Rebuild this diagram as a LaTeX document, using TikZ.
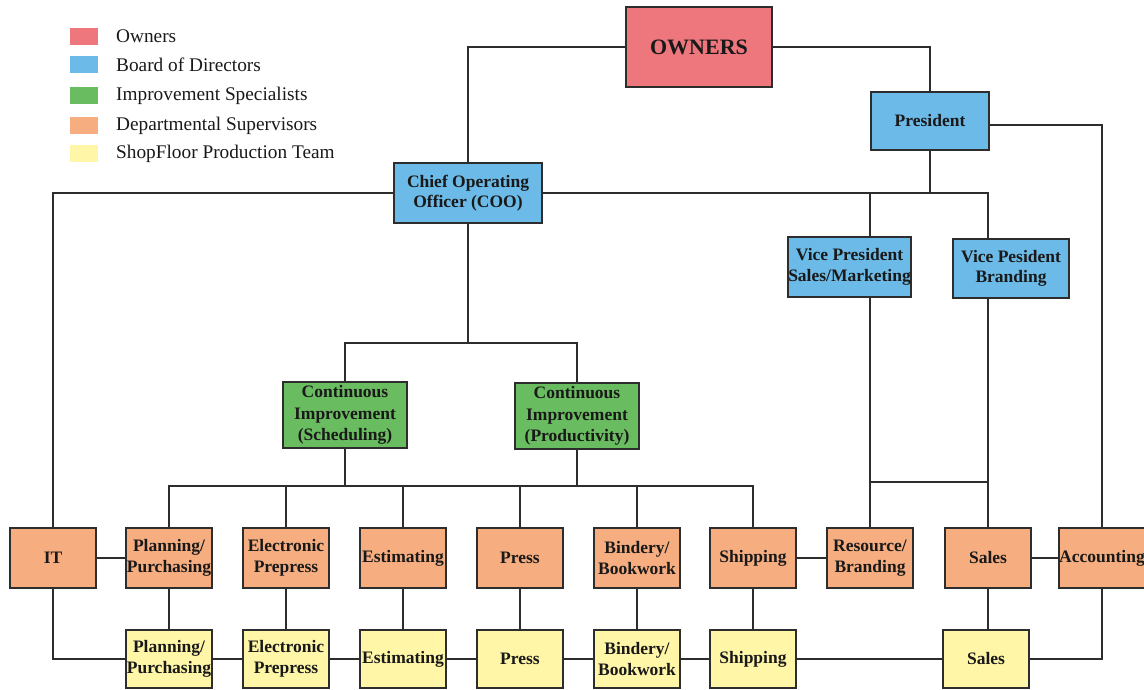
\documentclass[tikz,border=0pt]{standalone}
\usepackage{fontspec}
\setmainfont{Liberation Serif}
\usetikzlibrary{calc,backgrounds}
\definecolor{cOwn}{RGB}{238,118,125}
\definecolor{cBoard}{RGB}{108,186,232}
\definecolor{cImp}{RGB}{106,188,96}
\definecolor{cDept}{RGB}{246,174,128}
\definecolor{cShop}{RGB}{255,246,168}
\definecolor{cLine}{RGB}{45,45,45}
\begin{document}
\begin{tikzpicture}[x=1pt,y=-1pt,
 box/.style={draw=cLine, line width=1.5pt, inner sep=0pt, align=center,
   font=\fontsize{17.5}{20.5}\selectfont\bfseries, text=black!90},
 dept/.style={box, fill=cDept, minimum width=86pt, minimum height=60pt},
 shop/.style={box, fill=cShop, minimum width=86pt, minimum height=58pt},
 link/.style={draw=cLine, line width=1.7pt},
 swatch/.style={inner sep=0pt, minimum width=28pt, minimum height=17pt},
 legtext/.style={anchor=west, inner sep=0pt, font=\fontsize{19.3}{20}\selectfont, text=black!90}]
\useasboundingbox (0,0) rectangle (1144,690);

% legend
\node[swatch, fill=cOwn]   (s1) at (84,36.5) {};
\node[legtext] (l1) at (116,36.5) {Owners};
\node[swatch, fill=cBoard] (s2) at (84,65) {};
\node[legtext] (l2) at (116,65) {Board of Directors};
\node[swatch, fill=cImp]   (s3) at (84,95.5) {};
\node[legtext] (l3) at (116,95.5) {Improvement Specialists};
\node[swatch, fill=cDept]  (s4) at (84,126) {};
\node[legtext] (l4) at (116,126) {Departmental Supervisors};
\node[swatch, fill=cShop]  (s5) at (84,153.5) {};
\node[legtext] (l5) at (116,153.5) {ShopFloor Production Team};

% top levels
\node[box, fill=cOwn, minimum width=146pt, minimum height=80pt, font=\fontsize{22}{24}\selectfont\bfseries] (own) at (699,47) {OWNERS};
\node[box, fill=cBoard, minimum width=118pt, minimum height=58pt] (pres) at (930,121) {President};
\node[box, fill=cBoard, minimum width=148pt, minimum height=60pt] (coo) at (468,193) {Chief Operating\\Officer (COO)};
\node[box, fill=cBoard, minimum width=123pt, minimum height=60pt] (vps) at (849.5,267) {Vice President\\Sales/Marketing};
\node[box, fill=cBoard, minimum width=116pt, minimum height=59pt] (vpb) at (1011,268.5) {Vice Pesident\\Branding};
\node[box, fill=cImp, minimum width=124pt, minimum height=66pt, font=\fontsize{17.5}{21.5}\selectfont\bfseries] (cis) at (345,415) {Continuous\\Improvement\\(Scheduling)};
\node[box, fill=cImp, minimum width=124pt, minimum height=66pt, font=\fontsize{17.5}{21.5}\selectfont\bfseries] (cip) at (577,416) {Continuous\\Improvement\\(Productivity)};

% departmental supervisors
\node[dept] (it)  at (53,558) {IT};
\node[dept] (pl)  at (169,558) {Planning/\\Purchasing};
\node[dept] (ep)  at (286,558) {Electronic\\Prepress};
\node[dept] (est) at (403,558) {Estimating};
\node[dept] (pr)  at (520,558) {Press};
\node[dept] (bb)  at (637,558) {Bindery/\\Bookwork};
\node[dept] (sh)  at (753,558) {Shipping};
\node[dept] (rb)  at (870,558) {Resource/\\Branding};
\node[dept] (sa)  at (988,558) {Sales};
\node[dept, minimum width=84pt] (acc) at (1102,558) {Accounting};

% shop floor
\node[shop] (ply)  at (169,659) {Planning/\\Purchasing};
\node[shop] (epy)  at (286,659) {Electronic\\Prepress};
\node[shop] (esty) at (403,659) {Estimating};
\node[shop] (pry)  at (520,659) {Press};
\node[shop] (bby)  at (637,659) {Bindery/\\Bookwork};
\node[shop] (shy)  at (753,659) {Shipping};
\node[shop] (say)  at (986,659) {Sales};

\begin{scope}[on background layer]
 \draw[link] (own.west) -| (coo.north);
 \draw[link] (own.east) -| (pres.north);
 \draw[link] ($(pres.east)+(0,4)$) -| (acc.north);
 \draw[link] (pres.south) -- (pres.south |- coo.east);
 \draw[link] (coo.east) -| (sa.north);
 \draw[link] (rb.north) -- (rb.north |- coo.east);
 \draw[link] ($(rb.north)+(0,-45)$) -- ($(sa.north)+(0,-45)$);
 \draw[link] (it.north) |- (coo.west);
 \coordinate (bus1) at ($(coo.south)+(0,119)$);
 \draw[link] (coo.south) -- (bus1);
 \draw[link] (cis.north) |- (bus1) -| (cip.north);
 \coordinate (bus2) at ($(cis.south)+(0,37)$);
 \draw[link] (cis.south) -- (bus2);
 \draw[link] (cip.south) -- (cip.south |- bus2);
 \draw[link] (pl.north) |- (bus2 -| sh.north) -- (sh.north);
 \draw[link] (ep.north) -- (ep.north |- bus2);
 \draw[link] (est.north) -- (est.north |- bus2);
 \draw[link] (pr.north) -- (pr.north |- bus2);
 \draw[link] (bb.north) -- (bb.north |- bus2);
 \draw[link, line width=2.4pt] (it.east) -- (pl.west);
 \draw[link] (sh.east) -- (rb.west);
 \draw[link] (sa.east) -- (acc.west);
 \draw[link] (pl.south) -- (ply.north);
 \draw[link] (ep.south) -- (epy.north);
 \draw[link] (est.south) -- (esty.north);
 \draw[link] (pr.south) -- (pry.north);
 \draw[link] (bb.south) -- (bby.north);
 \draw[link] (sh.south) -- (shy.north);
 \draw[link] (sa.south) -- (sa.south |- say.north);
 \draw[link] (it.south) |- (ply.west);
 \draw[link] (ply.east) -- (epy.west);
 \draw[link] (epy.east) -- (esty.west);
 \draw[link] (esty.east) -- (pry.west);
 \draw[link] (pry.east) -- (bby.west);
 \draw[link] (bby.east) -- (shy.west);
 \draw[link] (shy.east) -- (say.west);
 \draw[link] (say.east) -| (acc.south);
\end{scope}
\end{tikzpicture}
\end{document}
